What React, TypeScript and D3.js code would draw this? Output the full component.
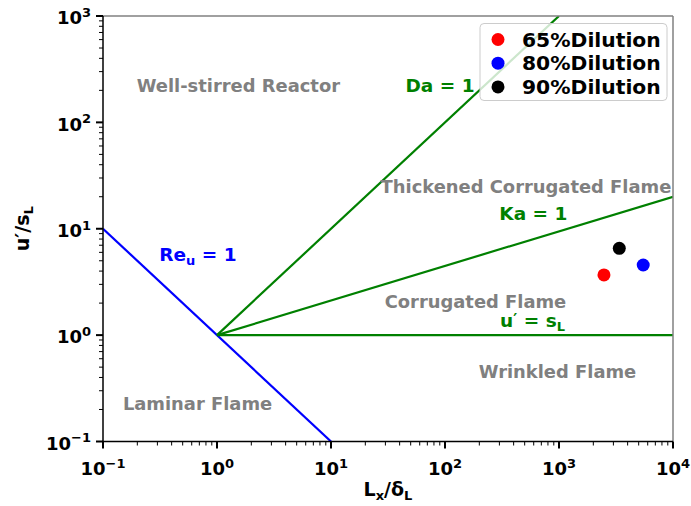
import React from "react";
import * as d3 from "d3";

const W = 691, H = 506;
const M = { left: 103, right: 673, top: 16, bottom: 441.5 };

const xDomain = [0.1, 1e4];
const yDomain = [0.1, 1e3];
const xTickExps = [-1, 0, 1, 2, 3, 4];
const yTickExps = [-1, 0, 1, 2, 3];

// Regime boundary lines (data coordinates)
const reLine = [[0.1, 10], [10, 0.1]];
const daLine = [[1, 1], [1000, 1000]];
const kaLine = [[1, 1], [1e4, 20]];
const uLine = [[1, 1], [1e4, 1]];

// Data points
const seriesNames = ["65%Dilution", "80%Dilution", "90%Dilution"];
const seriesColors = ["#ff0000", "#0000ff", "#000000"];
const seriesX = [2480, 5480, 3380];
const seriesY = [3.68, 4.56, 6.55];

// Region labels: [text, x(data), y(data)]  (anchor: middle / baseline)
const regionLabels: [string, number, number][] = [
  ["Well-stirred Reactor", 1.54, 193],
  ["Thickened Corrugated Flame", 513, 21.7],
  ["Corrugated Flame", 185, 1.78],
  ["Wrinkled Flame", 970, 0.395],
  ["Laminar Flame", 0.675, 0.198],
];

const FONT = "'DejaVu Sans', sans-serif";

export default function App() {
  const x = d3.scaleLog().domain(xDomain).range([M.left, M.right]);
  const y = d3.scaleLog().domain(yDomain).range([M.bottom, M.top]);
  const line = d3.line<number[]>().x((d) => x(d[0])).y((d) => y(d[1]));

  const minorX: number[] = [];
  for (let e = -1; e < 4; e++) for (let k = 2; k <= 9; k++) minorX.push(k * Math.pow(10, e));
  const minorY: number[] = [];
  for (let e = -1; e < 3; e++) for (let k = 2; k <= 9; k++) minorY.push(k * Math.pow(10, e));

  const expStr = (e: number) => (e < 0 ? "\u2212" + Math.abs(e) : String(e));
  const tickFs = 18;
  const supFs = 13;

  return (
    <svg width={W} height={H} style={{ position: "absolute", left: 0, top: 0, background: "#fff" }} fontFamily={FONT}>
      <rect x={0} y={0} width={W} height={H} fill="#fff" />
      <defs>
        <clipPath id="plotclip">
          <rect x={M.left} y={M.top} width={M.right - M.left} height={M.bottom - M.top} />
        </clipPath>
      </defs>

      {/* lines */}
      <g clipPath="url(#plotclip)" fill="none" strokeWidth={2.2}>
        <path d={line(reLine) || ""} stroke="#0000ff" />
        <path d={line(daLine) || ""} stroke="#008000" />
        <path d={line(kaLine) || ""} stroke="#008000" />
        <path d={line(uLine) || ""} stroke="#008000" />
      </g>

      {/* region labels */}
      <g fontWeight="bold" fill="#808080" fontSize={17.9}>
        {regionLabels.map(([t, lx, ly]) => (
          <text key={t} x={x(lx)} y={y(ly)} textAnchor="middle">{t}</text>
        ))}
      </g>

      {/* line labels */}
      <g fontWeight="bold" fontSize={18.5}>
        <text x={x(90.4)} y={y(193)} fill="#008000" textAnchor="middle">Da = 1</text>
        <text x={x(596)} y={y(12.1)} fill="#008000" textAnchor="middle">Ka = 1</text>
        <text x={x(586)} y={y(1.2)} fill="#008000" textAnchor="middle">
          u<tspan fontSize={15} dy={-2}>{"\u2032"}</tspan><tspan dy={2}> = s</tspan><tspan fontSize={13} dy={4}>L</tspan>
        </text>
        <text x={x(0.681)} y={y(4.98)} fill="#0000ff" textAnchor="middle">
          Re<tspan fontSize={13} dy={4}>u</tspan><tspan dy={-4}> = 1</tspan>
        </text>
      </g>

      {/* points */}
      {seriesX.map((v, i) => (
        <circle key={i} cx={x(v)} cy={y(seriesY[i])} r={6.5} fill={seriesColors[i]} />
      ))}

      {/* spines */}
      <line x1={M.left} x2={M.right} y1={M.top} y2={M.top} stroke="#808080" strokeWidth={1.5} />
      <line x1={M.right} x2={M.right} y1={M.top} y2={M.bottom} stroke="#808080" strokeWidth={1.5} />
      <line x1={M.left} x2={M.left} y1={M.top} y2={M.bottom + 0.75} stroke="#000" strokeWidth={1.5} />
      <line x1={M.left - 0.75} x2={M.right} y1={M.bottom} y2={M.bottom} stroke="#000" strokeWidth={1.5} />

      {/* ticks */}
      <g stroke="#000">
        {minorX.map((v) => (
          <line key={"mx" + v} x1={x(v)} x2={x(v)} y1={M.bottom} y2={M.bottom + 4} strokeWidth={1} />
        ))}
        {xTickExps.map((e) => (
          <line key={"Mx" + e} x1={x(Math.pow(10, e))} x2={x(Math.pow(10, e))} y1={M.bottom} y2={M.bottom + 7} strokeWidth={2} />
        ))}
        {minorY.map((v) => (
          <line key={"my" + v} x1={M.left - 4} x2={M.left} y1={y(v)} y2={y(v)} strokeWidth={1} />
        ))}
        {yTickExps.map((e) => (
          <line key={"My" + e} x1={M.left - 7} x2={M.left} y1={y(Math.pow(10, e))} y2={y(Math.pow(10, e))} strokeWidth={2} />
        ))}
      </g>

      {/* tick labels */}
      <g fontWeight="bold" fontSize={tickFs} fill="#000">
        {xTickExps.map((e) => (
          <text key={"lx" + e} x={x(Math.pow(10, e))} y={M.bottom + 33.5} textAnchor="middle">
            10<tspan fontSize={supFs} dy={-7.5}>{expStr(e)}</tspan>
          </text>
        ))}
        {yTickExps.map((e) => (
          <text key={"ly" + e} x={M.left - 12} y={y(Math.pow(10, e)) + 8.3} textAnchor="end">
            10<tspan fontSize={supFs} dy={-7.5}>{expStr(e)}</tspan>
          </text>
        ))}
      </g>

      {/* axis labels */}
      <text x={(M.left + M.right) / 2} y={496} fontWeight="bold" fontSize={19} textAnchor="middle">
        L<tspan fontSize={13} dy={4}>x</tspan><tspan dy={-4}>/δ</tspan><tspan fontSize={13} dy={4}>L</tspan>
      </text>
      <text transform={`translate(29,${(M.top + M.bottom) / 2}) rotate(-90)`} fontWeight="bold" fontSize={19} textAnchor="middle">
        u{"\u2032"}/s<tspan fontSize={13} dy={4}>L</tspan>
      </text>

      {/* legend */}
      <g>
        <rect x={480} y={23.5} width={187} height={77} rx={4} fill="#fff" fillOpacity={0.8} stroke="#cccccc" strokeWidth={1} />
        {seriesNames.map((n, i) => (
          <g key={n}>
            <circle cx={498} cy={39.5 + i * 23.7} r={6.5} fill={seriesColors[i]} />
            <text x={522} y={39.5 + i * 23.7 + 7.2} fontWeight="bold" fontSize={20.3} fill="#000">{n}</text>
          </g>
        ))}
      </g>
    </svg>
  );
}
